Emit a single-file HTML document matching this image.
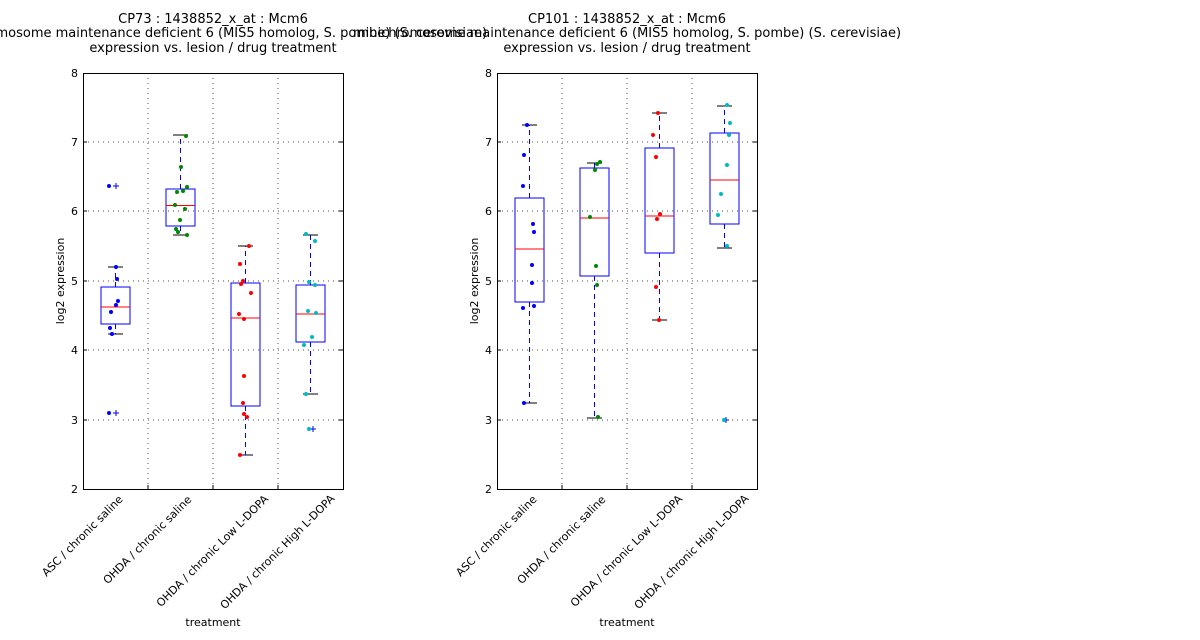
<!DOCTYPE html>
<html><head><meta charset="utf-8"><style>body{margin:0;background:#fff}svg{display:block}text{font-family:"DejaVu Sans","Liberation Sans",sans-serif;fill:#000}</style></head><body>
<svg width="1200" height="640" viewBox="0 0 1200 640" xmlns="http://www.w3.org/2000/svg">
<defs>
<g id="frame">
<rect x="0" y="0" width="260" height="416" fill="#fff"/>
<g stroke="#000" stroke-width="1" stroke-dasharray="1,4" opacity="0.7">
<line x1="0" y1="69" x2="260" y2="69"/><line x1="0" y1="138" x2="260" y2="138"/><line x1="0" y1="208" x2="260" y2="208"/><line x1="0" y1="277" x2="260" y2="277"/><line x1="0" y1="347" x2="260" y2="347"/>
<line x1="65" y1="0" x2="65" y2="416"/><line x1="130" y1="0" x2="130" y2="416"/><line x1="195" y1="0" x2="195" y2="416"/>
</g>
<g stroke="#000"><line x1="0" y1="69" x2="4" y2="69"/><line x1="0" y1="138" x2="4" y2="138"/><line x1="0" y1="208" x2="4" y2="208"/><line x1="0" y1="277" x2="4" y2="277"/><line x1="0" y1="347" x2="4" y2="347"/>
<line x1="256" y1="69" x2="260" y2="69"/><line x1="256" y1="138" x2="260" y2="138"/><line x1="256" y1="208" x2="260" y2="208"/><line x1="256" y1="277" x2="260" y2="277"/><line x1="256" y1="347" x2="260" y2="347"/>
<line x1="65" y1="416" x2="65" y2="412"/><line x1="130" y1="416" x2="130" y2="412"/><line x1="195" y1="416" x2="195" y2="412"/></g>
<g font-size="11" text-anchor="end"><text x="-5" y="4">8</text><text x="-5" y="73">7</text><text x="-5" y="142">6</text><text x="-5" y="212">5</text><text x="-5" y="281">4</text><text x="-5" y="351">3</text><text x="-5" y="420">2</text></g>
<g font-size="11" text-anchor="middle" dominant-baseline="central">
<text transform="translate(-0.5,463) rotate(-45)">ASC / chronic saline</text>
<text transform="translate(64.5,467) rotate(-45)">OHDA / chronic saline</text>
<text transform="translate(129.5,478) rotate(-45)">OHDA / chronic Low L-DOPA</text>
<text transform="translate(194.5,479) rotate(-45)">OHDA / chronic High L-DOPA</text>
</g>
<text x="130" y="553" font-size="11" text-anchor="middle">treatment</text>
<text transform="translate(-19,208) rotate(-90)" font-size="11" text-anchor="middle">log2 expression</text>
</g>
</defs>
<use href="#frame" x="83" y="73"/>
<use href="#frame" x="497" y="73"/>
<g font-size="13" text-anchor="middle">
<text x="213" y="23">CP73 : 1438852_x_at : Mcm6</text>
<text x="213" y="37">minichromosome maintenance deficient 6 (MIS5 homolog, S. pombe) (S. cerevisiae)</text>
<text x="213" y="52">expression vs. lesion / drug treatment</text>
<text x="627" y="23">CP101 : 1438852_x_at : Mcm6</text>
<text x="627" y="37">minichromosome maintenance deficient 6 (MIS5 homolog, S. pombe) (S. cerevisiae)</text>
<text x="627" y="52">expression vs. lesion / drug treatment</text>
</g>
<g stroke="#000"><path d="M108 334h15M108 267h15M173 235h15M173 135h15M238 455h15M238 246h15M303 394h15M303 235h15M522 403h15M522 125h15M587 418h15M587 163h15M652 320h15M652 113h15M717 248h15M717 106h15"/></g>
<g fill="none" stroke="#00f">
<g stroke-dasharray="5,4">
<path d="M115.5 324V334M115.5 287V267M180.5 226V235M180.5 189V135M245.5 406V455M245.5 283V246M310.5 342V394M310.5 285V235"/>
<path d="M529.5 302V403M529.5 198V125M594.5 276V418M594.5 168V163M659.5 253V320M659.5 148V113M724.5 224V248M724.5 133V106"/>
</g>
<rect x="101" y="287" width="29" height="37"/><rect x="166" y="189" width="29" height="37"/><rect x="231" y="283" width="29" height="123"/><rect x="296" y="285" width="29" height="57"/>
<rect x="515" y="198" width="29" height="104"/><rect x="580" y="168" width="29" height="108"/><rect x="645" y="148" width="29" height="105"/><rect x="710" y="133" width="29" height="91"/>
<path d="M113 186h6M116 183v6M113 413h6M116 410v6M310 429h6M313 426v6M723 420h6M726 417v6"/>
</g>
<g stroke="#f00"><path d="M101 307h29M166 205.5h29M231 318h29M296 314h29M515 249h29M580 218h29M645 216h29M710 180h29"/></g>
<g fill="#00f"><circle cx="109" cy="186" r="2"/><circle cx="116" cy="267" r="2"/><circle cx="117" cy="279" r="2"/><circle cx="118" cy="301" r="2"/><circle cx="116" cy="305" r="2"/><circle cx="111" cy="312" r="2"/><circle cx="110" cy="328" r="2"/><circle cx="112" cy="334" r="2"/><circle cx="109" cy="413" r="2"/>
<circle cx="527" cy="125" r="2"/><circle cx="524" cy="155" r="2"/><circle cx="523" cy="186" r="2"/><circle cx="533" cy="224" r="2"/><circle cx="534" cy="232" r="2"/><circle cx="532" cy="265" r="2"/><circle cx="532" cy="283" r="2"/><circle cx="534" cy="306" r="2"/><circle cx="523" cy="308" r="2"/><circle cx="524" cy="403" r="2"/></g>
<g fill="#080"><circle cx="186" cy="136" r="2"/><circle cx="181" cy="167" r="2"/><circle cx="187" cy="187" r="2"/><circle cx="183" cy="191" r="2"/><circle cx="177" cy="192" r="2"/><circle cx="175" cy="205" r="2"/><circle cx="185" cy="209" r="2"/><circle cx="180" cy="220" r="2"/><circle cx="176" cy="229" r="2"/><circle cx="178" cy="232" r="2"/><circle cx="187" cy="235" r="2"/>
<circle cx="600" cy="162" r="2"/><circle cx="597" cy="164" r="2"/><circle cx="595" cy="170" r="2"/><circle cx="590" cy="217" r="2"/><circle cx="596" cy="266" r="2"/><circle cx="597" cy="285" r="2"/><circle cx="598" cy="417" r="2"/></g>
<g fill="#f00"><circle cx="249" cy="246" r="2"/><circle cx="240" cy="264" r="2"/><circle cx="243" cy="281" r="2"/><circle cx="241" cy="284" r="2"/><circle cx="251" cy="293" r="2"/><circle cx="239" cy="314" r="2"/><circle cx="244" cy="319" r="2"/><circle cx="244" cy="376" r="2"/><circle cx="243" cy="403" r="2"/><circle cx="244" cy="414" r="2"/><circle cx="247" cy="417" r="2"/><circle cx="240" cy="455" r="2"/>
<circle cx="658" cy="113" r="2"/><circle cx="653" cy="135" r="2"/><circle cx="656" cy="157" r="2"/><circle cx="660" cy="214" r="2"/><circle cx="657" cy="219" r="2"/><circle cx="656" cy="287" r="2"/><circle cx="659" cy="320" r="2"/></g>
<g fill="#0bb"><circle cx="306" cy="234" r="2"/><circle cx="315" cy="241" r="2"/><circle cx="309" cy="282" r="2"/><circle cx="315" cy="285" r="2"/><circle cx="308" cy="311" r="2"/><circle cx="316" cy="313" r="2"/><circle cx="312" cy="337" r="2"/><circle cx="304" cy="345" r="2"/><circle cx="306" cy="394" r="2"/><circle cx="309" cy="429" r="2"/>
<circle cx="727" cy="105" r="2"/><circle cx="730" cy="123" r="2"/><circle cx="729" cy="135" r="2"/><circle cx="727" cy="165" r="2"/><circle cx="721" cy="194" r="2"/><circle cx="718" cy="215" r="2"/><circle cx="727" cy="246" r="2"/><circle cx="724" cy="420" r="2"/></g>
<rect x="83.5" y="73.5" width="260" height="416" fill="none" stroke="#000"/>
<rect x="497.5" y="73.5" width="260" height="416" fill="none" stroke="#000"/>
</svg>
</body></html>
